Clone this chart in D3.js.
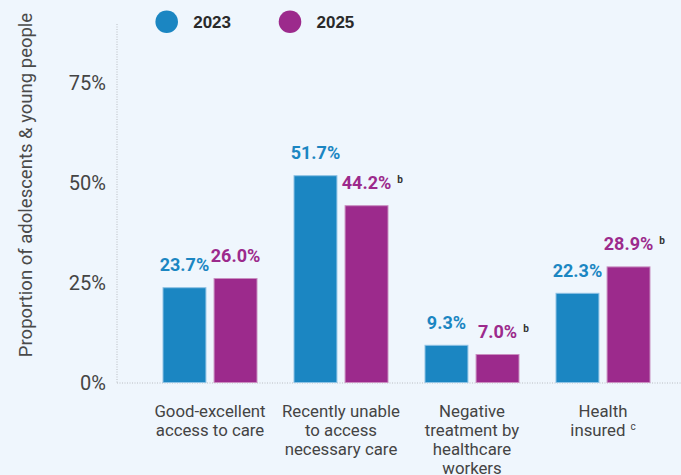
<!DOCTYPE html>
<html>
<head>
<meta charset="utf-8">
<script src="https://cdn.jsdelivr.net/npm/d3@7"></script>
<style>
  html, body { margin: 0; padding: 0; background: #eff6fd; }
  svg { display: block; }
</style>
</head>
<body>
<svg id="chart" width="681" height="475"></svg>
<script>
// Survey indicators, two survey rounds
const categories = [
  ["Good-excellent", "access to care"],
  ["Recently unable", "to access", "necessary care"],
  ["Negative", "treatment by", "healthcare", "workers"],
  ["Health", "insured"]
];
const categoryNotes = ["", "", "", "c"];
const seriesNames = ["2023", "2025"];
const values2023 = [23.7, 51.7, 9.3, 22.3];
const values2025 = [26.0, 44.2, 7.0, 28.9];
const notes2025 = ["", "b", "b", "b"];
const yTicks = [0, 25, 50, 75];
const yTitle = "Proportion of adolescents & young people";

const colors = { "2023": "#1b86c2", "2025": "#9c2a8c" };
const strokes = { "2023": "#8fc2e4", "2025": "#c98fc1" };

const svg = d3.select("#chart");
const font = "Roboto, 'Liberation Sans', Arial, sans-serif";

const y = d3.scaleLinear().domain([0, 75]).range([382, 82]);
const x0 = d3.scaleBand().domain(d3.range(categories.length)).range([144.5, 668.5]).padding(0);
const x1 = d3.scaleBand().domain(seriesNames).range([18, 113]).paddingInner(0.14).paddingOuter(0);

const rows = categories.map((c, i) => ({
  i,
  vals: [
    { s: "2023", v: values2023[i], note: "" },
    { s: "2025", v: values2025[i], note: notes2025[i] }
  ]
}));

// y axis: dotted vertical rule and percent labels
svg.append("line")
  .attr("x1", 117).attr("x2", 117).attr("y1", 24).attr("y2", 383)
  .attr("stroke", "#b9bdc2").attr("stroke-width", 1).attr("stroke-dasharray", "1,1.5");

const yAxis = d3.axisLeft(y).tickValues(yTicks).tickSize(0).tickPadding(0)
  .tickFormat(d => d + "%");
const ga = svg.append("g").attr("transform", "translate(106,0)").call(yAxis);
ga.select(".domain").remove();
ga.selectAll("text")
  .attr("font-family", font).attr("font-size", 20).attr("fill", "#444")
  .attr("dy", "0.36em");

// baseline
svg.append("line")
  .attr("x1", 117).attr("x2", 681).attr("y1", 383).attr("y2", 383)
  .attr("stroke", "#b9bdc2").attr("stroke-width", 1).attr("stroke-dasharray", "1,1.5");

// y title
svg.append("text")
  .attr("transform", `translate(31.5,185) rotate(-90)`)
  .attr("text-anchor", "middle")
  .attr("font-family", font).attr("font-size", 18.5).attr("fill", "#4a4a4a")
  .text(yTitle);

// bars
const groups = svg.selectAll("g.grp").data(rows).join("g")
  .attr("class", "grp")
  .attr("transform", d => `translate(${x0(d.i)},0)`);

groups.selectAll("rect").data(d => d.vals).join("rect")
  .attr("x", d => x1(d.s) + 0.5)
  .attr("width", x1.bandwidth() - 1)
  .attr("y", d => y(d.v) + 0.5)
  .attr("height", d => y(0) - y(d.v))
  .attr("fill", d => colors[d.s])
  .attr("stroke", d => strokes[d.s])
  .attr("stroke-width", 1);

// value labels
const labels = groups.selectAll("g.lab").data(d => d.vals).join("g")
  .attr("class", "lab")
  .attr("transform", d => `translate(${x1(d.s) + x1.bandwidth() / 2},${y(d.v) - 16})`);

labels.append("text")
  .attr("class", "val")
  .attr("text-anchor", "middle")
  .attr("font-family", font).attr("font-weight", "bold").attr("font-size", 18)
  .attr("fill", d => colors[d.s])
  .text(d => d.v.toFixed(1) + "%");

labels.filter(d => d.note).each(function() {
  const g = d3.select(this);
  const w = g.select("text.val").node().getComputedTextLength();
  g.append("text")
    .attr("x", w / 2 + 6)
    .attr("y", -6)
    .attr("font-family", font).attr("font-weight", "bold").attr("font-size", 10)
    .attr("fill", "#333")
    .text(d => d.note);
});

// category labels
groups.each(function(d) {
  const g = d3.select(this);
  const cx = x0.bandwidth() / 2;
  const t = g.append("text")
    .attr("text-anchor", "middle")
    .attr("font-family", font).attr("font-size", 16.8).attr("fill", "#444");
  const lines = categories[d.i];
  lines.forEach((ln, k) => {
    t.append("tspan").attr("x", cx).attr("y", 416.5 + k * 19.3).text(ln);
    if (k === lines.length - 1 && categoryNotes[d.i]) {
      t.append("tspan").attr("dx", 5).attr("dy", -6).attr("font-size", 10).text(categoryNotes[d.i]);
    }
  });
});

// legend
const leg = svg.selectAll("g.leg").data(seriesNames).join("g")
  .attr("class", "leg")
  .attr("transform", (d, i) => `translate(${166.7 + i * 123.3},21.7)`);
leg.append("circle").attr("r", 11.3).attr("fill", d => colors[d]);
leg.append("text")
  .attr("x", 26.5).attr("dy", "0.36em")
  .attr("font-family", "'Liberation Sans', Arial, sans-serif").attr("font-weight", "bold")
  .attr("font-size", 17).attr("fill", "#2a2a2a")
  .text(d => d);
</script>
</body>
</html>
